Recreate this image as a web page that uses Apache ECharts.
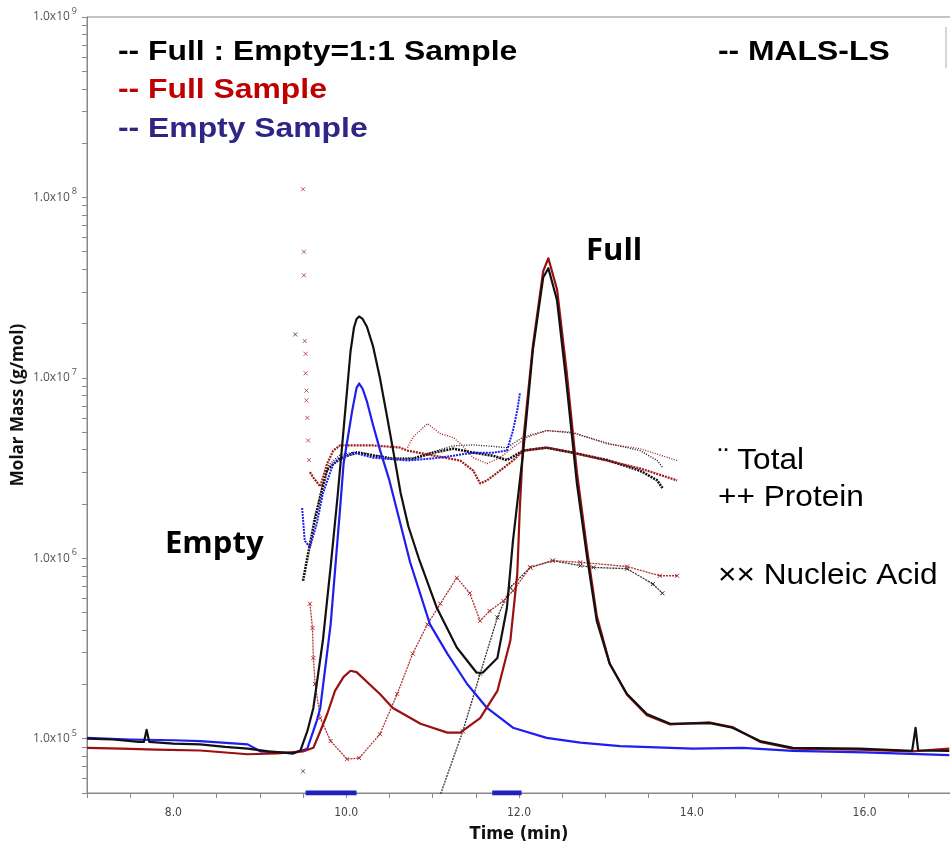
<!DOCTYPE html>
<html>
<head>
<meta charset="utf-8">
<script src="https://cdn.jsdelivr.net/npm/echarts@6/dist/echarts.min.js"></script>
<style>
  html, body { margin: 0; padding: 0; background: #fff; }
  #chart { width: 950px; height: 843px; }
</style>
</head>
<body>
<div id="chart"></div>
<script>
// MALS-LS traces [time (min), value]
const lsMix = [[7.00,1.00e5],[7.30,9.9e4],[7.60,9.6e4],[7.66,9.6e4],[7.69,1.12e5],[7.72,9.6e4],[8.00,9.4e4],[8.31,9.3e4],[8.60,9.0e4],[8.86,8.8e4],[9.10,8.5e4],[9.39,8.3e4],[9.47,8.6e4],[9.55,1.10e5],[9.62,1.48e5],[9.73,3.5e5],[9.82,9.0e5],[9.90,2.2e6],[9.97,5.2e6],[10.05,1.4e7],[10.09,1.9e7],[10.12,2.12e7],[10.15,2.19e7],[10.19,2.12e7],[10.24,1.92e7],[10.31,1.5e7],[10.39,1.0e7],[10.47,6.2e6],[10.55,3.8e6],[10.63,2.3e6],[10.72,1.5e6],[10.84,1.0e6],[11.05,5.3e5],[11.28,3.2e5],[11.51,2.32e5],[11.58,2.32e5],[11.75,2.8e5],[11.86,5.3e5],[11.93,1.25e6],[12.05,3.95e6],[12.16,1.42e7],[12.28,3.6e7],[12.34,4.05e7],[12.44,2.69e7],[12.55,9.3e6],[12.67,2.6e6],[12.79,1.0e6],[12.90,4.5e5],[13.05,2.6e5],[13.25,1.77e5],[13.48,1.37e5],[13.75,1.21e5],[14.21,1.22e5],[14.47,1.15e5],[14.79,9.7e4],[15.17,8.9e4],[15.94,8.8e4],[16.55,8.55e4],[16.59,1.15e5],[16.62,8.6e4],[16.98,8.55e4]];
const lsFull = [[7.00,8.9e4],[7.40,8.8e4],[7.80,8.7e4],[8.31,8.6e4],[8.86,8.2e4],[9.20,8.3e4],[9.50,8.5e4],[9.62,8.9e4],[9.70,1.10e5],[9.78,1.37e5],[9.87,1.84e5],[9.97,2.2e5],[10.05,2.38e5],[10.12,2.34e5],[10.39,1.77e5],[10.54,1.48e5],[10.86,1.21e5],[11.17,1.08e5],[11.32,1.08e5],[11.55,1.30e5],[11.75,1.84e5],[11.90,3.5e5],[11.98,8.2e5],[12.01,1.91e6],[12.05,4.5e6],[12.16,1.5e7],[12.28,3.9e7],[12.34,4.6e7],[12.44,3.1e7],[12.55,1.1e7],[12.67,3.0e6],[12.79,1.1e6],[12.90,4.8e5],[13.05,2.6e5],[13.25,1.75e5],[13.48,1.35e5],[13.75,1.2e5],[14.21,1.23e5],[14.47,1.16e5],[14.79,9.6e4],[15.17,8.8e4],[15.94,8.7e4],[16.55,8.5e4],[16.98,8.8e4]];
const lsEmpty = [[7.00,1.01e5],[7.50,9.9e4],[8.00,9.8e4],[8.31,9.7e4],[8.86,9.3e4],[9.01,8.5e4],[9.39,8.3e4],[9.55,8.8e4],[9.66,1.26e5],[9.70,1.48e5],[9.82,4.3e5],[9.93,1.91e6],[9.97,3.35e6],[10.07,6.6e6],[10.12,8.8e6],[10.15,9.3e6],[10.19,8.7e6],[10.24,7.4e6],[10.31,5.5e6],[10.39,4.0e6],[10.50,2.7e6],[10.60,1.75e6],[10.74,9.5e5],[10.97,4.3e5],[11.17,2.96e5],[11.40,2.01e5],[11.63,1.48e5],[11.93,1.15e5],[12.32,1.01e5],[12.71,9.5e4],[13.17,9.1e4],[14.01,8.8e4],[14.59,8.9e4],[15.17,8.55e4],[16.00,8.4e4],[16.98,8.1e4]];

// molar mass, Full : Empty = 1:1 sample
const totalMix = [[9.62,1.6e6],[9.72,2.5e6],[9.80,3.3e6],[9.93,3.75e6],[10.13,3.9e6],[10.31,3.75e6],[10.54,3.6e6],[10.77,3.6e6],[11.01,3.9e6],[11.24,4.2e6],[11.47,4.25e6],[11.70,4.17e6],[11.86,4.1e6],[12.05,4.7e6],[12.32,5.1e6],[12.62,4.95e6],[13.02,4.35e6],[13.40,3.95e6],[13.60,3.48e6],[13.66,3.2e6]];
const proteinMix = [[9.50,7.5e5],[9.62,1.5e6],[9.72,2.4e6],[9.78,3.1e6],[9.93,3.6e6],[10.13,3.85e6],[10.31,3.71e6],[10.54,3.55e6],[10.77,3.55e6],[11.01,3.85e6],[11.24,4.05e6],[11.47,3.85e6],[11.70,3.7e6],[11.86,3.5e6],[12.05,3.95e6],[12.32,4.1e6],[12.62,3.85e6],[13.02,3.5e6],[13.40,3.06e6],[13.60,2.7e6],[13.66,2.45e6]];
const nucleicMix = [[11.07,4.6e4],[11.35,1.10e5],[11.55,2.29e5],[11.75,4.7e5],[11.90,6.9e5],[12.13,8.9e5],[12.39,9.7e5],[12.71,9.1e5],[12.86,8.9e5],[13.25,8.75e5],[13.55,7.2e5],[13.66,6.4e5]];
const strayMix = [[9.41,1.74e7],[9.50,6.6e4]];

// molar mass, full sample
const totalFull = [[10.71,4.1e6],[10.77,4.67e6],[10.94,5.58e6],[11.09,4.9e6],[11.24,4.67e6],[11.32,4.32e6],[11.47,3.61e6],[11.63,3.35e6],[11.78,3.61e6],[11.93,4.11e6],[12.09,4.67e6],[12.32,5.1e6],[12.62,5.0e6],[13.02,4.3e6],[13.40,4.05e6],[13.83,3.48e6]];
const proteinFull = [[9.58,3.0e6],[9.62,2.8e6],[9.70,2.5e6],[9.78,3.35e6],[9.85,3.95e6],[9.93,4.22e6],[10.31,4.22e6],[10.62,4.11e6],[10.71,3.95e6],[11.01,3.71e6],[11.32,3.48e6],[11.47,3.06e6],[11.55,2.6e6],[11.63,2.7e6],[11.78,3.06e6],[11.93,3.48e6],[12.05,3.95e6],[12.32,4.11e6],[12.62,3.85e6],[13.02,3.48e6],[13.40,3.15e6],[13.83,2.7e6]];
const nucleicFull = [[9.58,5.6e5],[9.61,4.1e5],[9.62,2.8e5],[9.64,2.01e5],[9.70,1.30e5],[9.82,9.7e4],[10.01,7.7e4],[10.15,7.8e4],[10.39,1.06e5],[10.59,1.77e5],[10.77,2.96e5],[10.94,4.3e5],[11.09,5.6e5],[11.28,7.8e5],[11.43,6.4e5],[11.55,4.5e5],[11.66,5.1e5],[11.82,5.8e5],[11.93,6.6e5],[12.13,8.9e5],[12.39,9.7e5],[12.71,9.5e5],[13.25,9.0e5],[13.63,8.0e5],[13.83,8.0e5]];
const strayFull = [[9.50,1.11e8],[9.51,5.0e7],[9.51,3.7e7],[9.52,1.6e7],[9.53,1.36e7],[9.53,1.06e7],[9.54,8.5e6],[9.54,7.5e6],[9.55,6.0e6],[9.56,4.5e6],[9.57,3.5e6]];

// molar mass, empty sample
const proteinEmpty = [[9.49,1.9e6],[9.52,1.25e6],[9.58,1.15e6],[9.66,1.56e6],[9.73,2.28e6],[9.85,3.35e6],[10.08,3.85e6],[10.31,3.61e6],[10.71,3.48e6],[11.09,3.61e6],[11.47,3.85e6],[11.70,3.85e6],[11.86,3.95e6],[11.93,5.1e6],[11.98,6.6e6],[12.01,8.2e6]];

// peak ranges marked on the baseline
const peakRanges = [[9.53, 10.12], [11.69, 12.03]];

const xLabelValues = [8, 10, 12, 14, 16];
const xTickValues = [7, 7.5, 8, 8.5, 9, 9.5, 10, 10.5, 11, 11.5, 12, 12.5, 13, 13.5, 14, 14.5, 15, 15.5, 16, 16.5, 17];
const yLabelValues = [1e5, 1e6, 1e7, 1e8, 1e9];
const yTickValues = [5e4, 6e4, 7e4, 8e4, 9e4];
[5, 6, 7, 8].forEach(e => { for (let m = 1; m <= 9; m++) yTickValues.push(m * Math.pow(10, e)); });
yTickValues.push(1e9);

const BLACK = '#111111', RED = '#9a1010', BLUE = '#1e1ef0';
const crossSym = 'path://M0,0L10,10M10,0L0,10';
const narrow = "'DejaVu Sans Condensed', 'Liberation Sans Narrow', sans-serif";

const chart = echarts.init(document.getElementById('chart'));

function lsLine(data, color) {
    return { type: 'line', data: data, showSymbol: false, z: 5,
        lineStyle: { color: color, width: 2.2, join: 'round' }, itemStyle: { color: color } };
}
function totalLine(data, color) {
    return { type: 'line', data: data, showSymbol: false, z: 3,
        lineStyle: { color: color, width: 1.3, type: [1, 1.5] } };
}
function proteinLine(data, color, width) {
    return { type: 'line', data: data, showSymbol: false, z: 3,
        lineStyle: { color: color, width: width, type: [2, 1] } };
}
function nucleicLine(data, color) {
    return { type: 'line', data: data, symbol: crossSym, symbolSize: 4, z: 3,
        lineStyle: { color: color, width: 1.3, type: [2, 1] },
        itemStyle: { color: 'none', borderColor: color, borderWidth: 1 } };
}
function label(text, x, y, font, fill, sx) {
    return { type: 'text', x: x, y: y, scaleX: sx || 1,
        style: { text: text, fill: fill, font: font, verticalAlign: 'middle' } };
}

const series = [
    totalLine(totalMix, BLACK),
    proteinLine(proteinMix, BLACK, 2.6),
    nucleicLine(nucleicMix, '#333'),
    totalLine(totalFull, '#a01818'),
    proteinLine(proteinFull, '#a01818', 2.2),
    nucleicLine(nucleicFull, '#b03030'),
    proteinLine(proteinEmpty, BLUE, 2),
    { type: 'scatter', data: strayFull, symbol: crossSym, symbolSize: 4,
      itemStyle: { color: 'none', borderColor: '#b03030', borderWidth: 1 } },
    { type: 'scatter', data: strayMix, symbol: crossSym, symbolSize: 4,
      itemStyle: { color: 'none', borderColor: '#333', borderWidth: 1 } },
    lsLine(lsEmpty, BLUE),
    lsLine(lsFull, RED),
    lsLine(lsMix, BLACK)
];
peakRanges.forEach(r => {
    series.push({ type: 'line', data: [[r[0], 5e4], [r[1], 5e4]], showSymbol: false, z: 6,
        lineStyle: { color: '#2020c0', width: 5 } });
});

const boldSans = "bold 27px 'Liberation Sans', Arial, sans-serif";
const plainSans = "29px 'Liberation Sans', Arial, sans-serif";

const option = {
    animation: false,
    backgroundColor: '#fff',
    grid: { left: 87, right: -1, top: 17, bottom: 50, outerBoundsMode: 'none',
        show: true, borderColor: '#888', borderWidth: 1 },
    xAxis: {
        type: 'value', min: 7, max: 17,
        name: 'Time (min)', nameLocation: 'middle', nameGap: 32,
        nameTextStyle: { fontSize: 18, fontWeight: 'bold', color: '#111', fontFamily: narrow },
        axisLine: { lineStyle: { color: '#888' } },
        axisTick: { customValues: xTickValues, length: 5, lineStyle: { color: '#888' } },
        axisLabel: { customValues: xLabelValues, margin: 14, fontSize: 12, color: '#444',
            fontFamily: narrow, formatter: v => v.toFixed(1) },
        splitLine: { show: false }
    },
    yAxis: {
        type: 'log', min: 5e4, max: 1e9,
        name: 'Molar Mass (g/mol)', nameLocation: 'middle', nameGap: 60, nameMoveOverlap: false,
        nameTextStyle: { fontSize: 17, fontWeight: 'bold', color: '#111', fontFamily: "'Open Sans', sans-serif" },
        axisLine: { show: true, lineStyle: { color: '#888' } },
        axisTick: { customValues: yTickValues, length: 5, lineStyle: { color: '#888' } },
        axisLabel: {
            customValues: yLabelValues, margin: 10,
            formatter: v => '{m|1.0x10}{e|' + Math.round(Math.log10(v)) + '}',
            rich: {
                m: { fontSize: 12, color: '#555', fontFamily: "'Open Sans', sans-serif", lineHeight: 20 },
                e: { fontSize: 9, color: '#555', fontFamily: "'Open Sans', sans-serif", lineHeight: 9, verticalAlign: 'top', padding: [0, 0, 0, 2] }
            }
        },
        splitLine: { show: false },
        minorTick: { show: false }
    },
    graphic: [
        label('-- Full : Empty=1:1 Sample', 118, 53, boldSans, '#000', 1.18),
        label('-- Full Sample', 118, 91, boldSans, '#c00000', 1.18),
        label('-- Empty Sample', 118, 130, boldSans, '#2e2585', 1.18),
        label('-- MALS-LS', 718, 53, boldSans, '#000', 1.18),
        label('Full', 586, 251, "bold 31px 'Open Sans', sans-serif", '#000'),
        label('Empty', 165, 544, "bold 31px 'Open Sans', sans-serif", '#000'),
        label('¨ Total', 718, 461, plainSans, '#000', 1.09),
        label('++ Protein', 718, 498, plainSans, '#000', 1.09),
        label('×× Nucleic Acid', 718, 576, plainSans, '#000', 1.09),
        { type: 'line', shape: { x1: 946, y1: 27, x2: 946, y2: 68 }, style: { stroke: '#aaa', lineWidth: 1 } }
    ],
    series: series
};
chart.setOption(option);
</script>
</body>
</html>
